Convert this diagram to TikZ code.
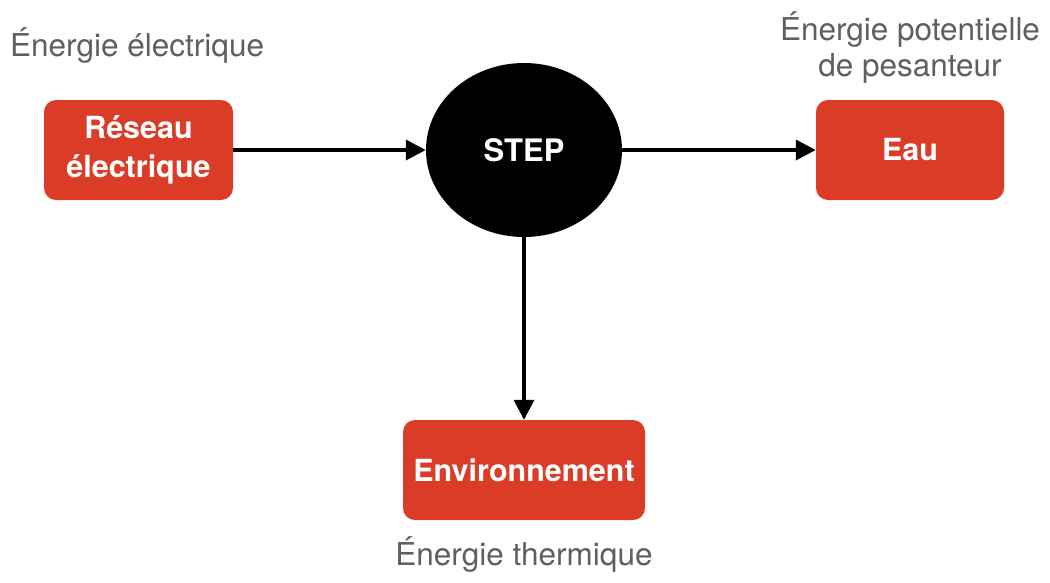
\documentclass[tikz,border=0pt]{standalone}
\usepackage{fontspec}
\setmainfont{TeX Gyre Heros}
\usetikzlibrary{shapes.geometric,arrows.meta}
\definecolor{boxred}{RGB}{218,60,40}
\definecolor{labgray}{RGB}{95,95,95}
\begin{document}
\begin{tikzpicture}[x=1pt,y=-1pt,
  redbox/.style={draw=none,fill=boxred,rounded corners=12pt,minimum height=100pt,text=white,font=\fontsize{30.5}{39}\selectfont\bfseries,align=center,inner sep=0pt},
  lab/.style={text=labgray,font=\fontsize{31.5}{36}\selectfont,align=center,inner sep=0pt},
  conn/.style={line width=3.5pt,-{Triangle[length=20pt,width=20pt]}}]
\useasboundingbox (0,0) rectangle (1050,582);
\node[redbox,minimum width=189pt] (res) at (138.5,150) {Réseau\\électrique};
\node[ellipse,fill=black,minimum width=196pt,minimum height=174pt,inner sep=0pt,text=white,font=\fontsize{31}{36}\selectfont\bfseries] (step) at (524,150) {STEP};
\node[redbox,minimum width=188pt] (eau) at (910,150) {Eau};
\node[redbox,minimum width=242pt] (env) at (524,470) {Environnement};
\node[lab,anchor=west] (l1) at (10,46) {Énergie électrique};
\node[lab] (l2) at (910,48) {Énergie potentielle\\de pesanteur};
\node[lab] (l3) at (524,554) {Énergie thermique};
\draw[conn] (res.east) -- (step.west);
\draw[conn] (step.east) -- (eau.west);
\draw[conn] (step.south) -- (env.north);
\end{tikzpicture}
\end{document}
